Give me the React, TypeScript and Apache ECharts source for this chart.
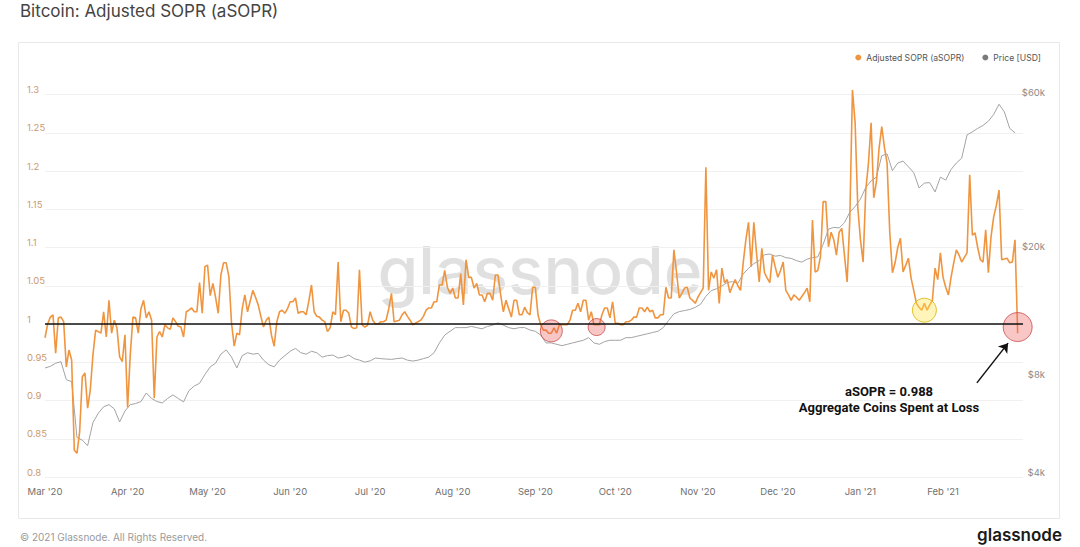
import React, { useEffect, useRef } from "react";
import * as echarts from "echarts";

// Daily Adjusted SOPR, starting 2020-03-01
const SOPR_START = Date.UTC(2020, 2, 1);
const DAY = 86400000;
const SOPR_VALUES = [
  0.982, 1.0, 1.009, 1.012, 0.962, 1.008, 1.009, 1.003, 0.944, 0.966,
  0.953, 0.835, 0.831, 0.859, 0.931, 0.936, 0.89, 0.914, 0.96, 0.992,
  0.99, 0.988, 1.016, 0.983, 1.031, 0.988, 1.005, 0.995, 0.957, 0.951,
  0.986, 0.891, 0.96, 1.009, 1.008, 0.988, 1.02, 1.031, 1.008, 1.016,
  1.005, 0.903, 0.983, 0.99, 0.983, 0.999, 0.995, 0.993, 1.008, 1.003,
  0.997, 0.996, 0.983, 1.016, 1.018, 1.021, 1.016, 1.016, 1.054, 1.014,
  1.075, 1.077, 1.037, 1.053, 1.035, 1.014, 1.064, 1.08, 1.08, 1.062,
  1.001, 0.971, 0.988, 0.986, 1.02, 1.038, 1.016, 1.03, 1.044, 1.035,
  1.025, 1.01, 0.996, 1.005, 1.009, 0.985, 0.971, 1.003, 1.016, 1.018,
  1.014, 1.02, 1.029, 1.029, 1.034, 1.014, 1.016, 1.016, 1.012, 1.03,
  1.051, 1.016, 1.01, 1.009, 1.005, 1.003, 0.99, 0.995, 1.016, 1.012,
  1.081, 1.003, 1.018, 1.018, 1.014, 0.996, 0.994, 0.995, 1.071, 0.999,
  0.996, 0.998, 1.016, 1.005, 1.0, 1.0, 1.003, 1.003, 1.005, 1.02,
  1.04, 1.003, 1.004, 1.005, 1.012, 1.016, 1.01, 1.005, 0.999, 1.001,
  1.003, 1.005, 1.01, 1.018, 1.021, 1.021, 1.029, 1.029, 1.051, 1.051,
  1.07, 1.048, 1.04, 1.047, 1.034, 1.034, 1.066, 1.025, 1.084, 1.061,
  1.061, 1.047, 1.053, 1.038, 1.038, 1.029, 1.04, 1.04, 1.031, 1.064,
  1.064, 1.038, 1.016, 1.031, 1.02, 1.009, 1.031, 1.031, 1.012, 1.012,
  1.022, 1.015, 1.012, 1.048, 1.048, 1.012, 0.999, 0.992, 0.992, 0.988,
  0.988, 0.995, 0.988, 0.999, 0.999, 0.999, 0.999, 1.005, 1.018, 1.018,
  1.027, 1.016, 1.031, 1.031, 1.005, 1.016, 0.999, 0.999, 0.999, 1.012,
  1.021, 1.021, 1.008, 1.029, 1.001, 1.001, 0.999, 0.999, 1.003, 1.003,
  1.005, 1.009, 1.009, 1.021, 1.021, 1.016, 1.022, 1.016, 1.018, 1.008,
  1.008, 1.012, 1.012, 1.048, 1.034, 1.034, 1.097, 1.067, 1.034, 1.04,
  1.047, 1.048, 1.034, 1.031, 1.027, 1.035, 1.041, 1.047, 1.205, 1.044,
  1.068, 1.06, 1.071, 1.027, 1.073, 1.054, 1.058, 1.041, 1.05, 1.058,
  1.05, 1.044, 1.08, 1.11, 1.133, 1.075, 1.133, 1.093, 1.055, 1.099,
  1.067, 1.06, 1.054, 1.09, 1.075, 1.061, 1.07, 1.081, 1.044, 1.038,
  1.031, 1.038, 1.035, 1.031, 1.036, 1.041, 1.047, 1.029, 1.136, 1.068,
  1.07, 1.088, 1.16, 1.16, 1.101, 1.12, 1.11, 1.09, 1.12, 1.125,
  1.09, 1.055, 1.136, 1.306, 1.263, 1.153, 1.11, 1.081, 1.175, 1.21,
  1.263, 1.165, 1.186, 1.23, 1.258, 1.231, 1.21, 1.12, 1.067, 1.08,
  1.1, 1.112, 1.068, 1.077, 1.086, 1.06, 1.044, 1.027, 1.022, 1.018,
  1.027, 1.018, 1.025, 1.031, 1.073, 1.058, 1.093, 1.061, 1.048, 1.038,
  1.061, 1.08, 1.097, 1.09, 1.081, 1.087, 1.093, 1.195, 1.116, 1.119,
  1.1, 1.084, 1.081, 1.123, 1.067, 1.114, 1.14, 1.155, 1.175, 1.084,
  1.085, 1.086, 1.08, 1.081, 1.11, 0.988,
];

// BTC price (USD), one value every 2 days from 2020-03-01
const PRICE_STEP_DAYS = 2;
const PRICE_VALUES = [
  8700, 8800, 9000, 9100, 8000, 7900, 5300, 5200, 5000, 5900,
  6300, 6600, 6700, 6500, 5920, 6400, 6700, 6750, 6850, 7280,
  7000, 6850, 6780, 7000, 7180, 7000, 6830, 7400, 7650, 7800,
  8300, 8770, 9000, 9600, 9900, 9400, 8700, 9500, 9700, 9600,
  9650, 9200, 8900, 8770, 9200, 9500, 9800, 10000, 9700, 9600,
  9800, 9700, 9400, 9500, 9540, 9340, 9400, 9540, 9300, 9200,
  9070, 9150, 9340, 9300, 9270, 9250, 9300, 9340, 9200, 9140,
  9200, 9300, 9400, 9700, 10400, 11000, 11300, 11600, 11600, 11600,
  11700, 11600, 11500, 11700, 11800, 12000, 11800, 11600, 11500, 11600,
  11600, 11400, 11300, 11000, 10400, 10400, 10300, 10200, 10300, 10400,
  10500, 10600, 10800, 10400, 10300, 10500, 10600, 10600, 10600, 10800,
  10800, 10900, 11000, 11100, 11200, 11300, 11600, 12200, 12800, 13000,
  13100, 13200, 13400, 13700, 14500, 15100, 15300, 15600, 16000, 16100,
  15900, 17000, 17700, 18300, 18700, 19500, 19600, 19300, 19400, 19100,
  19000, 18700, 18500, 18900, 19100, 19200, 21000, 23400, 23700, 23600,
  24500, 26400, 27500, 29000, 31500, 33000, 33900, 39500, 40000, 35500,
  37500, 38000, 36500, 35000, 31400, 32500, 32600, 30500, 33900, 33200,
  35800, 37500, 38800, 45800, 46800, 48000, 49000, 50500, 53000, 57000,
  54000, 48000, 46500,
];

const MONTH_TICKS = [
  "2020-03-01", "2020-04-01", "2020-05-01", "2020-06-01", "2020-07-01", "2020-08-01",
  "2020-09-01", "2020-10-01", "2020-11-01", "2020-12-01", "2021-01-01", "2021-02-01",
];
const MONTH_NAMES = ["Jan", "Feb", "Mar", "Apr", "May", "Jun", "Jul", "Aug", "Sep", "Oct", "Nov", "Dec"];
const PRICE_TICKS = [4000, 8000, 20000, 60000];

// annotations: [day offset, aSOPR value, symbol size]
const LOSS_CIRCLES = [
  [190, 0.991, 22],
  [207, 0.996, 17],
  [365, 0.996, 29],
];
const WARN_CIRCLES = [[330, 1.018, 24]];
const ARROW = [
  [349.7, 0.923],
  [361.4, 0.975],
];

const ORANGE = "#f0953f";

const dayTs = (d: number) => SOPR_START + d * DAY;

export default function App() {
  const ref = useRef<HTMLDivElement>(null);

  useEffect(() => {
    if (!ref.current) return;
    const chart = echarts.init(ref.current, undefined, { renderer: "svg" });

    const soprData = SOPR_VALUES.map((v, i) => [dayTs(i), v]);
    const priceData = PRICE_VALUES.map((p, i) => [dayTs(i * PRICE_STEP_DAYS), Math.log10(p)]);
    const priceMin = Math.log10(4000);
    const priceMax = 4.786;

    const option: any = {
      animation: false,
      backgroundColor: "#ffffff",
      textStyle: { fontFamily: "Inter" },
      legend: {
        data: [
          { name: "Adjusted SOPR (aSOPR)", itemStyle: { color: ORANGE } },
          { name: "Price [USD]", itemStyle: { color: "#7a7a7a" } },
        ],
        icon: "circle",
        itemWidth: 6,
        itemHeight: 6,
        itemGap: 18,
        right: 34,
        top: 48,
        textStyle: { fontSize: 8.6, color: "#555", fontFamily: "Inter" },
      },
      grid: { left: 45, right: 57, top: 94.5, bottom: 70 },
      xAxis: {
        type: "value",
        min: dayTs(0),
        max: dayTs(367),
        axisLine: { show: false },
        axisTick: { show: false },
        splitLine: { show: false },
        axisLabel: {
          customValues: MONTH_TICKS.map((s) => Date.parse(s + "T00:00:00Z")),
          formatter: (v: number) => {
            const dt = new Date(v);
            return MONTH_NAMES[dt.getUTCMonth()] + " '" + String(dt.getUTCFullYear()).slice(2);
          },
          color: "#6f6f6f",
          fontSize: 9.5,
          margin: 9,
          fontFamily: "Inter",
        },
      },
      yAxis: [
        {
          type: "value",
          min: 0.8,
          max: 1.3,
          interval: 0.05,
          position: "left",
          axisLine: { show: false },
          axisTick: { show: false },
          axisLabel: {
            color: "#cc9a6c",
            fontSize: 9.5,
            fontFamily: "Inter",
            align: "left",
            margin: 18,
            verticalAlign: "bottom",
            formatter: (v: number) => String(Number(v.toFixed(2))),
          },
          splitLine: { lineStyle: { color: "#f0f0f0", width: 1 } },
        },
        {
          type: "value",
          min: priceMin,
          max: priceMax,
          position: "right",
          axisLine: { show: false },
          axisTick: { show: false },
          splitLine: { show: false },
          axisLabel: {
            customValues: PRICE_TICKS.map((p) => Math.log10(p)),
            formatter: (v: number) => "$" + Math.round(Math.pow(10, v) / 1000) + "k",
            color: "#8a8a8a",
            fontSize: 9.5,
            fontFamily: "Inter",
            align: "right",
            margin: 22,
            verticalAlign: "bottom",
          },
        },
      ],
      series: [
        {
          name: "Price [USD]",
          type: "line",
          yAxisIndex: 1,
          data: priceData,
          showSymbol: false,
          symbol: "none",
          lineStyle: { color: "#a3a3a3", width: 1 },
          itemStyle: { color: "#7a7a7a" },
          z: 2,
        },
        {
          name: "Adjusted SOPR (aSOPR)",
          type: "line",
          yAxisIndex: 0,
          data: soprData,
          showSymbol: false,
          symbol: "none",
          clip: false,
          lineStyle: { color: ORANGE, width: 1.6 },
          itemStyle: { color: ORANGE },
          z: 3,
          markLine: {
            silent: true,
            symbol: "none",
            label: { show: false },
            lineStyle: { color: "#111", width: 1.5, type: "solid" },
            data: [{ yAxis: 1 }],
          },
        },
        {
          name: "loss",
          type: "scatter",
          yAxisIndex: 0,
          data: LOSS_CIRCLES.map(([d, v, s]) => ({ value: [dayTs(d), v], symbolSize: s })),
          itemStyle: { color: "rgba(238,85,85,0.42)", borderColor: "#c94b4b", borderWidth: 1 },
          z: 4,
          silent: true,
          markLine: {
            silent: true,
            symbol: ["none", "arrow"],
            symbolSize: 9,
            label: { show: false },
            lineStyle: { color: "#111", width: 1.5, type: "solid" },
            data: [
              [
                { coord: [dayTs(ARROW[0][0]), ARROW[0][1]] },
                { coord: [dayTs(ARROW[1][0]), ARROW[1][1]] },
              ],
            ],
          },
        },
        {
          name: "warn",
          type: "scatter",
          yAxisIndex: 0,
          data: WARN_CIRCLES.map(([d, v, s]) => ({ value: [dayTs(d), v], symbolSize: s })),
          itemStyle: { color: "rgba(255,228,80,0.5)", borderColor: "#d8b400", borderWidth: 1 },
          z: 4,
          silent: true,
        },
      ],
      graphic: [
        {
          type: "rect",
          silent: true,
          z: -1,
          shape: { x: 18.5, y: 42.5, width: 1041, height: 476 },
          style: { fill: "none", stroke: "#e8e8e8", lineWidth: 1 },
        },
        {
          type: "text",
          silent: true,
          x: 20,
          y: 2,
          style: {
            text: "Bitcoin: Adjusted SOPR (aSOPR)",
            fill: "#444",
            font: "17px Inter",
            align: "left",
            verticalAlign: "top",
          },
        },
        {
          type: "text",
          silent: true,
          z: -1,
          x: 540,
          y: 270,
          style: {
            text: "glassnode",
            fill: "rgba(0,0,0,0.12)",
            font: "500 66px Inter",
            align: "center",
            verticalAlign: "middle",
          },
        },
        {
          type: "text",
          silent: true,
          x: 889,
          y: 391,
          style: {
            text: "aSOPR = 0.988",
            fill: "#111",
            font: "bold 13px Roboto",
            align: "center",
            verticalAlign: "middle",
          },
        },
        {
          type: "text",
          silent: true,
          x: 889,
          y: 407,
          style: {
            text: "Aggregate Coins Spent at Loss",
            fill: "#111",
            font: "bold 13px Roboto",
            align: "center",
            verticalAlign: "middle",
          },
        },
        {
          type: "text",
          silent: true,
          x: 20,
          y: 532,
          style: {
            text: "© 2021 Glassnode. All Rights Reserved.",
            fill: "#9a9a9a",
            font: "10px Inter",
            align: "left",
            verticalAlign: "top",
          },
        },
        {
          type: "text",
          silent: true,
          x: 1062,
          y: 526,
          style: {
            text: "glassnode",
            fill: "#1a1a1a",
            font: "600 17px Inter",
            align: "right",
            verticalAlign: "top",
          },
        },
      ],
    };

    chart.setOption(option);
    return () => chart.dispose();
  }, []);

  return (
    <div
      ref={ref}
      style={{ position: "absolute", left: 0, top: 0, width: 1080, height: 547, background: "#fff" }}
    />
  );
}
